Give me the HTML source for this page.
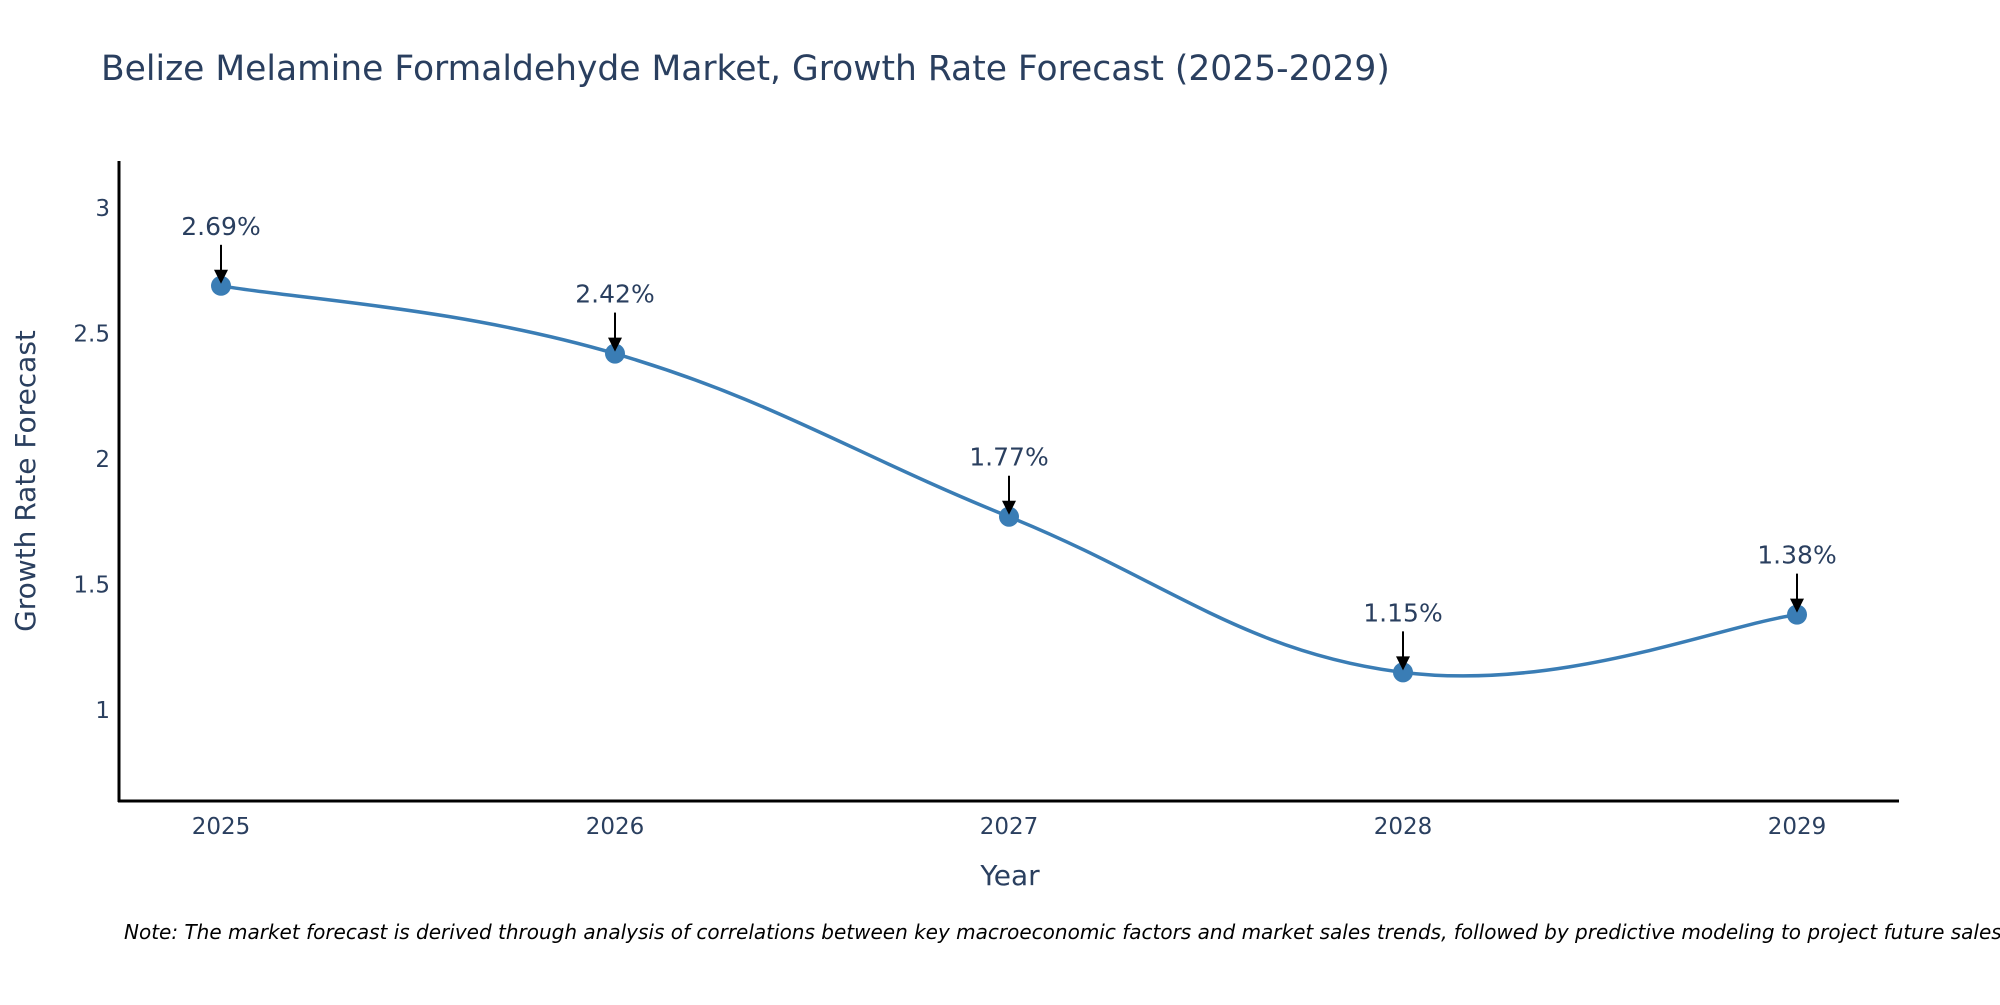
<!DOCTYPE html>
<html><head><meta charset="utf-8"><style>
body{margin:0;background:#fff;overflow:hidden;}
svg text{font-family:"DejaVu Sans","Liberation Sans",sans-serif;fill:#2a3f5f;}
</style></head><body>
<svg id="chart" width="2000" height="1000" xmlns="http://www.w3.org/2000/svg">
<text x="101" y="80" font-size="34.5">Belize Melamine Formaldehyde Market, Growth Rate Forecast (2025-2029)</text>
<g id="yticks"></g>
<g id="xticks"></g>
<path id="line" fill="none" stroke="#3a7db5" stroke-width="3.5"></path>
<g id="points"></g>
<g id="annots"></g>
<line x1="119" y1="161" x2="119" y2="802" stroke="#000" stroke-width="3"/>
<line x1="118" y1="801" x2="1899" y2="801" stroke="#000" stroke-width="3"/>
<text x="1010" y="885" font-size="28" text-anchor="middle">Year</text>
<text transform="translate(35,481) rotate(-90)" font-size="28" text-anchor="middle">Growth Rate Forecast</text>
<text x="124" y="939" font-size="20" font-style="italic" style="fill:#000">Note: The market forecast is derived through analysis of correlations between key macroeconomic factors and market sales trends, followed by predictive modeling to project future sales.</text>
</svg>
<script>
const categories=["2025","2026","2027","2028","2029"];
const values=[2.69,2.42,1.77,1.15,1.38];
const yTicks=[1,1.5,2,2.5,3];
const yTickLabels=["1","1.5","2","2.5","3"];
const NS="http://www.w3.org/2000/svg";
const x=i=>221+i*394;
const y=v=>710-(v-1)*251;
function mk(tag,attrs,parent){const e=document.createElementNS(NS,tag);for(const k in attrs)e.setAttribute(k,attrs[k]);parent.appendChild(e);return e;}
const yt=document.getElementById('yticks');
yTicks.forEach((t,i)=>{const e=mk('text',{x:110,y:y(t)+8,'font-size':23,'text-anchor':'end'},yt);


e.textContent=yTickLabels[i];});
const xt=document.getElementById('xticks');
categories.forEach((c,i)=>{const e=mk('text',{x:x(i),y:834,'font-size':23,'text-anchor':'middle'},xt);


e.textContent=c;});
const P=values.map((v,i)=>[x(i),y(v)]);
let d=`M${P[0][0]},${P[0][1]}`;const s=0.2;
for(let i=0;i<P.length-1;i++){const p0=P[Math.max(i-1,0)],p1=P[i],p2=P[i+1],p3=P[Math.min(i+2,P.length-1)];
d+=` C${p1[0]+(p2[0]-p0[0])*s},${p1[1]+(p2[1]-p0[1])*s} ${p2[0]-(p3[0]-p1[0])*s},${p2[1]-(p3[1]-p1[1])*s} ${p2[0]},${p2[1]}`;}
document.getElementById('line').setAttribute('d',d);
const pts=document.getElementById('points'),an=document.getElementById('annots');
values.forEach((v,i)=>{const c=mk('circle',{cx:x(i),cy:y(v),r:10,fill:'#3a7db5'},pts);


const l=mk('line',{x1:x(i),y1:y(v)-41,x2:x(i),y2:y(v)-12,stroke:'#000','stroke-width':2},an);


const h=mk('polygon',{points:`${x(i)-7},${y(v)-16} ${x(i)+7},${y(v)-16} ${x(i)},${y(v)-2}`,fill:'#000'},an);


const t=mk('text',{x:x(i),y:y(v)-51,'font-size':25,'text-anchor':'middle'},an);


t.textContent=v.toFixed(2)+'%';});
</script>
</body></html>
